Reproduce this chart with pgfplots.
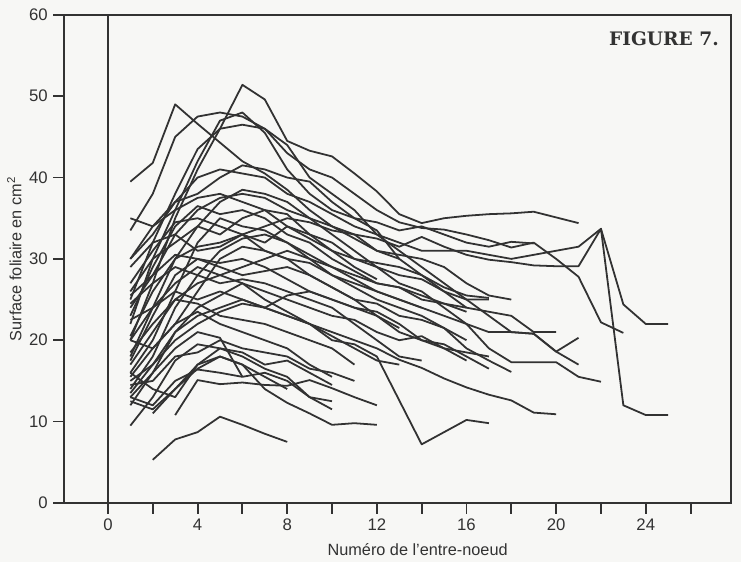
\documentclass[border=0pt]{standalone}
\usepackage{fontspec}
\setmainfont{Liberation Sans}
\newfontfamily\figfont{DejaVu Serif}
\usepackage{pgfplots}
\pgfplotsset{compat=1.18}
\definecolor{inkcol}{RGB}{50,50,50}
\definecolor{paper}{RGB}{247,247,245}
\tikzset{lc/.style={color=inkcol, line width=1.15pt, line join=round}}

\begin{document}
\begin{tikzpicture}
\path[use as bounding box, fill=paper] (-41.3pt,-38.06pt) rectangle (436.7pt,324.4pt);
\begin{axis}[
  at={(0,0)}, anchor=south west,
  scale only axis,
  width=430.2pt, height=314.8pt,
  xmin=-1.96, xmax=27.8,
  ymin=0, ymax=60,
  axis line style={inkcol, line width=1.2pt},
  xtick={0,2,...,26},
  xticklabels={0,,4,,8,,12,,16,,20,,24,},
  ytick={0,10,...,60},
  xtick pos=bottom, ytick pos=left,
  tick align=outside,
  major tick length=7pt,
  tick style={inkcol, line width=1.2pt},
  tick label style={font=\fontsize{10.8}{12}\selectfont, text=inkcol},
  /pgf/number format/assume math mode=true,
  xlabel={Numéro de l'entre-noeud},
  ylabel={Surface foliaire en cm\textsuperscript{2}},
  label style={font=\fontsize{10.5}{12}\selectfont, text=inkcol},
  xlabel style={xshift=13pt, yshift=-1pt},
  ylabel style={yshift=-2pt},
  clip=false,
]
\addplot[inkcol, line width=1.2pt] coordinates {(0,0) (0,60)};

\addplot[lc] coordinates {(2,5.3)(3,7.8)(4,8.7)(5,10.6)(6,9.6)(7,8.5)(8,7.5)};
\addplot[lc] coordinates {(3,10.8)(4,15.1)(5,14.6)(6,14.8)(7,14.5)(8,14.4)(9,15.1)(10,14.1)(11,13)(12,12)};
\addplot[lc] coordinates {(1,12.5)(2,11.5)(3,14)(4,16.5)(5,18)(6,17)(7,14)(8,12.3)(9,11)(10,9.6)(11,9.8)(12,9.6)};
\addplot[lc] coordinates {(1,13)(2,16)(3,19)(4,21)(5,20.3)(6,15.5)};
\addplot[lc] coordinates {(1,9.5)(2,13)(3,17.5)(4,19.5)(5,19)(6,18)(7,16.5)(8,15.5)(9,13)(10,12.5)};
\addplot[lc] coordinates {(1,39.5)(2,41.8)(3,49)(4,46.6)(5,44.3)(6,42)(7,40.5)(8,38.5)(9,36)(10,34)(11,32.5)(12,31)(13,30.5)(14,30)(15,29)(16,27)(17,25.5)(18,25)};
\addplot[lc] coordinates {(1,20)(2,27)(3,35)(4,41)(5,46)(6,51.4)(7,49.6)(8,44.5)(9,43.3)(10,42.6)(11,40.5)(12,38.3)(13,35.5)(14,34.4)(15,35)(16,35.3)(17,35.5)(18,35.6)(19,35.8)(20,35.1)(21,34.4)};
\addplot[lc] coordinates {(1,33.5)(2,38)(3,45)(4,47.5)(5,48)(6,47.5)(7,46)(8,43)(9,41)(10,40)(11,38)(12,36)(13,34.5)(14,33.8)(15,33.6)(16,33)(17,32.3)(18,31.4)(19,32)(20,30)(21,27.8)(22,22.2)(23,20.9)};
\addplot[lc] coordinates {(1,24)(2,28)(3,33)(4,36)(5,37.5)(6,38)(7,37.5)(8,36)(9,35)(10,34)(11,33)(12,32.5)(13,31.5)(14,32.7)(15,31.5)(16,30.5)(17,29.9)(18,29.6)(19,29.2)(20,29.1)(21,29.1)(22,33.7)(23,12)(24,10.8)(25,10.8)};
\addplot[lc] coordinates {(1,30)(2,33)(3,37)(4,40)(5,41)(6,40.5)(7,40)(8,38)(9,37)(10,35.5)(11,34)(12,33)(13,32)(14,31)(15,31)(16,31)(17,30.5)(18,30)(19,30.5)(20,31)(21,31.5)(22,33.7)(23,24.4)(24,22)(25,22)};
\addplot[lc] coordinates {(1,35)(2,34)(3,37)(4,38)(5,40)(6,41.5)(7,41)(8,40)(9,39.5)(10,37)(11,35)(12,34.5)(13,33.5)(14,34)(15,33)(16,32)(17,31.5)(18,32.1)(19,31.9)};
\addplot[lc] coordinates {(1,25)(2,32)(3,38)(4,43.5)(5,46)(6,46.5)(7,46)(8,44)(9,40)(10,38)(11,36)(12,33)(13,31)(14,29)(15,27)(16,25)(17,23)(18,21)(19,20.8)(20,18.6)(21,17)};
\addplot[lc] coordinates {(1,22)(2,30)(3,36)(4,42)(5,47)(6,48)(7,45.5)(8,41)(9,38)(10,36)(11,35)(12,33.5)(13,30)(14,28)(15,26)(16,24)};
\addplot[lc] coordinates {(1,18)(2,24)(3,30)(4,34)(5,37)(6,38.5)(7,38)(8,37)(9,35)(10,33)(11,31)(12,29)(13,27)(14,26)(15,24)(16,22)(17,21)(18,21)(19,20.8)(20,18.6)(21,20.3)};
\addplot[lc] coordinates {(1,16)(2,20)(3,26)(4,32)(5,35)(6,34)(7,33.5)(8,32)(9,30.5)(10,29)(11,27.5)(12,26)(13,25)(14,24)(15,23)(16,22)(17,19)(18,17.3)(19,17.3)(20,17.3)(21,15.5)(22,14.9)};
\addplot[lc] coordinates {(1,14)(2,18)(3,24)(4,28)(5,31)(6,32.5)(7,33)(8,32)(9,30)(10,28)(11,26.5)(12,25)(13,24)(14,23)(15,21.5)(16,19)(17,17.5)(18,16.1)};
\addplot[lc] coordinates {(1,12)(2,16)(3,21)(4,24)(5,25.5)(6,27)(7,26)(8,25)(9,24)(10,23)(11,22.5)(12,21)(13,20)(14,20.5)(15,19)(16,17.5)};
\addplot[lc] coordinates {(1,15)(2,17)(3,20)(4,22)(5,23.5)(6,24.5)(7,24)(8,25.5)(9,26)(10,25)(11,24)(12,23)(13,21)(14,20)(15,19.5)(16,18)(17,16.5)};
\addplot[lc] coordinates {(1,17)(2,21)(3,25)(4,27)(5,28)(6,29)(7,30)(8,31)(9,30)(10,29)(11,28)(12,27)(13,26.5)(14,25)(15,24.5)(16,24)(17,23.5)(18,23)(19,21)(20,21)};
\addplot[lc] coordinates {(1,20.5)(2,26)(3,30)(4,31.5)(5,32)(6,33)(7,32)(8,34)(9,33)(10,32)(11,30)(12,29.5)(13,29)(14,28)(15,26.5)(16,25.5)(17,25.2)};
\addplot[lc] coordinates {(1,23)(2,29)(3,34)(4,36.5)(5,35.5)(6,36)(7,35)(8,33)(9,32)(10,30)(11,28.5)(12,27)(13,26.5)(14,25.5)(15,24.5)(16,23.5)};
\addplot[lc] coordinates {(1,27)(2,31)(3,34.5)(4,35)(5,34)(6,33)(7,31)(8,30)(9,29.5)(10,28)(11,27)(12,26)(13,25)(14,24)};
\addplot[lc] coordinates {(1,29)(2,32)(3,33)(4,31)(5,31.5)(6,33)(7,34)(8,35)(9,34.5)(10,33.5)(11,33)(12,31)(13,30)};
\addplot[lc] coordinates {(1,30)(2,34)(3,36)(4,37.5)(5,38)(6,37)(7,36)(8,34)(9,32.5)(10,31)(11,29)(12,27.5)};
\addplot[lc] coordinates {(1,25.5)(2,28)(3,30.5)(4,30)(5,29)(6,28)(7,28.5)(8,29)(9,28)(10,26.5)(11,25)(12,23)(13,21.5)};
\addplot[lc] coordinates {(1,24.5)(2,27)(3,29)(4,28)(5,27)(6,27.5)(7,27)(8,26)(9,25)(10,24)(11,22)(12,20)(13,18)(14,17.5)};
\addplot[lc] coordinates {(1,22.5)(2,24)(3,26)(4,25)(5,26)(6,25)(7,24)(8,23)(9,22)(10,20.5)(11,19)(12,17.5)(13,17)};
\addplot[lc] coordinates {(1,18.5)(2,22)(3,25)(4,24.5)(5,23)(6,22.5)(7,22)(8,21)(9,20)(10,19)(11,17)};
\addplot[lc] coordinates {(1,15.5)(2,19)(3,22)(4,23.5)(5,22)(6,21)(7,20)(8,19)(9,17)(10,15.5)};
\addplot[lc] coordinates {(1,14.5)(2,15)(3,18)(4,18.5)(5,20)(6,19)(7,18.5)(8,18)(9,16.5)(10,16)(11,15)};
\addplot[lc] coordinates {(1,13)(2,12)(3,15)(4,16.4)(5,16)(6,15.5)(7,16)(8,15)(9,13)(10,11.5)};
\addplot[lc] coordinates {(1,20)(2,19)(3,22)(4,26)(5,30)(6,31.5)(7,31)(8,30)(9,28)(10,26.5)(11,25)(12,24.5)(13,23)(14,22.5)(15,21.5)(16,20)};
\addplot[lc] coordinates {(1,17.5)(2,23)(3,28)(4,30)(5,29.5)(6,30)(7,29)(8,27.5)(9,26)(10,25)(11,24)(12,23.5)(13,22)(14,20)(15,19)(16,18.5)(17,18)};
\addplot[lc] coordinates {(1,26)(2,30)(3,32)(4,34)(5,33)(6,35)(7,36)(8,35.5)(9,33)(10,31)(11,30)(12,29)(13,28)(14,27.5)(15,26)(16,25)(17,25)};
\addplot[lc] coordinates {(1,16)(2,14)(3,13)(4,17)(5,19)(6,18.5)(7,17)(8,17.5)(9,16)(10,14.5)};
\addplot[lc] coordinates {(2,11)(3,14)(4,17)(5,18)(6,17)(7,15.5)(8,14)};
\addplot[lc] coordinates {(1,20)(2,24)(3,27)(4,29)(5,28)(6,27)(7,25)(8,23.5)(9,22)(10,20)(11,19.5)(12,18)(13,12.6)(14,7.2)(15,8.7)(16,10.2)(17,9.8)};
\addplot[lc] coordinates {(1,13.5)(2,17)(3,21)(4,23)(5,24)(6,25)(7,24)(8,23)(9,22)(10,21)(11,20)(12,19)(13,17.6)(14,16.6)(15,15.3)(16,14.2)(17,13.3)(18,12.6)(19,11.1)(20,10.9)};

\node[anchor=east, font=\figfont\bfseries\fontsize{12}{14}\selectfont, text=inkcol] at (axis cs:27.5,57.1) {FIGURE 7.};
\end{axis}
\end{tikzpicture}
\end{document}
